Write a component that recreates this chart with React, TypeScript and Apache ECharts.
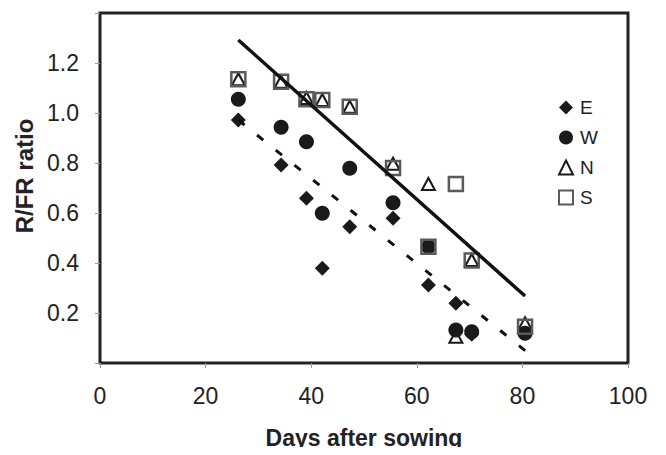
import React, { useEffect, useRef } from "react";
import * as echarts from "echarts";

const days = [26.2, 34.3, 39.1, 42.1, 47.3, 55.5, 62.2, 67.4, 70.4, 80.5];
const eValues = [0.972, 0.792, 0.659, 0.379, 0.545, 0.579, 0.312, 0.239, 0.115, null];
const wValues = [1.055, 0.943, 0.885, 0.599, 0.779, 0.641, 0.465, 0.132, 0.125, 0.119];
const nValues = [1.135, 1.125, 1.06, 1.052, 1.025, 0.797, 0.716, 0.105, 0.412, 0.159];
const sValues = [1.135, 1.125, 1.055, 1.052, 1.025, 0.78, 0.465, 0.716, 0.41, 0.145];
const trendNS = [[26.2, 1.292], [80.5, 0.268]];
const trendE = [[26.2, 0.972], [80.8, 0.045]];

const FONT = "Liberation Sans, Arial, sans-serif";
const INK = "#222";

function pairs(vals: (number | null)[]) {
  const out: number[][] = [];
  vals.forEach((v, i) => {
    if (v !== null) out.push([days[i], v]);
  });
  return out;
}

export default function App() {
  const ref = useRef<HTMLDivElement>(null);
  useEffect(() => {
    if (!ref.current) return;
    const chart = echarts.init(ref.current, null, { renderer: "svg" });
    chart.setOption({
      animation: false,
      backgroundColor: "#fff",
      textStyle: { fontFamily: FONT },
      grid: {
        left: 100,
        right: 38,
        top: 13,
        bottom: 92,
        show: true,
        borderColor: INK,
        borderWidth: 3,
        backgroundColor: "transparent",
      },
      legend: {
        orient: "vertical",
        left: 553,
        top: 93,
        itemWidth: 14,
        itemHeight: 14,
        itemGap: 11,
        textStyle: { fontFamily: FONT, fontSize: 19, color: INK, padding: [0, 0, 0, 2] },
        data: ["E", "W", "N", "S"],
      },
      xAxis: {
        type: "value",
        min: 0,
        max: 100,
        interval: 20,
        name: "Days after sowing",
        nameLocation: "middle",
        nameGap: 63,
        nameTextStyle: { fontFamily: FONT, fontSize: 23, fontWeight: "bold", color: INK },
        splitLine: { show: false },
        axisLine: { show: false },
        axisTick: { show: true, length: 5, lineStyle: { color: "#999", width: 1 } },
        axisLabel: { fontFamily: FONT, fontSize: 23, color: INK, margin: 21 },
      },
      yAxis: {
        type: "value",
        min: 0,
        max: 1.4,
        interval: 0.2,
        name: "R/FR ratio",
        nameLocation: "middle",
        nameGap: 62,
        nameTextStyle: {
          fontFamily: FONT,
          fontSize: 24,
          fontWeight: "bold",
          color: INK,
          padding: [0, 0, 0, 24],
        },
        splitLine: { show: false },
        axisLine: { show: false },
        axisTick: { show: true, length: 5, lineStyle: { color: "#999", width: 1 } },
        axisLabel: {
          fontFamily: FONT,
          fontSize: 23,
          color: INK,
          margin: 21,
          formatter: (v: number) => (v < 0.1 || v > 1.3 ? "" : v.toFixed(1)),
        },
      },
      series: [
        {
          name: "E",
          type: "scatter",
          symbol: "diamond",
          symbolSize: [15, 15],
          itemStyle: { color: "#1a1a1a", opacity: 1 },
          data: pairs(eValues),
          z: 2,
        },
        {
          name: "W",
          type: "scatter",
          symbol: "circle",
          symbolSize: 15,
          itemStyle: { color: "#1a1a1a", opacity: 1 },
          data: pairs(wValues),
          z: 2,
        },
        {
          name: "N",
          type: "scatter",
          symbol: "triangle",
          symbolSize: [13, 12],
          itemStyle: { color: "transparent", borderColor: "#1a1a1a", borderWidth: 2, opacity: 1 },
          data: pairs(nValues),
          z: 3,
        },
        {
          name: "S",
          type: "scatter",
          symbol: "rect",
          symbolSize: 14,
          itemStyle: { color: "transparent", borderColor: "#5a5a5a", borderWidth: 2.5, opacity: 1 },
          data: pairs(sValues),
          z: 4,
        },
        {
          name: "trendNS",
          type: "line",
          data: trendNS,
          symbol: "none",
          lineStyle: { color: "#111", width: 3.5 },
          z: 5,
        },
        {
          name: "trendE",
          type: "line",
          data: trendE,
          symbol: "none",
          lineStyle: { color: "#111", width: 3, type: [8, 16] },
          z: 5,
        },
      ],
    });
    return () => chart.dispose();
  }, []);
  return <div ref={ref} style={{ width: 666, height: 455, margin: -8 }} />;
}
